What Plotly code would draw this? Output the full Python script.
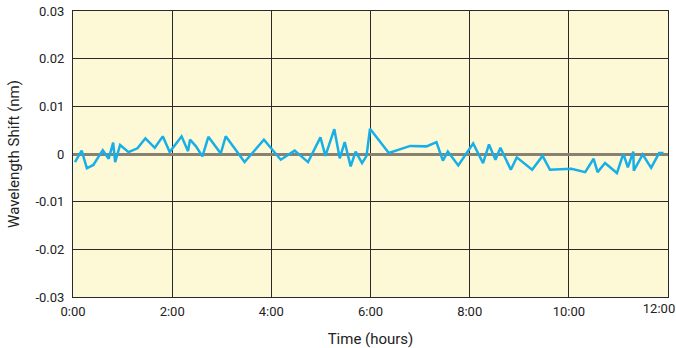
import plotly.graph_objects as go

time_hours = [0.04, 0.175, 0.28, 0.41, 0.6, 0.72, 0.81, 0.85, 0.95, 1.12, 1.30, 1.46, 1.65, 1.81, 1.95,
              2.19, 2.32, 2.36, 2.48, 2.61, 2.73, 2.98, 3.08, 3.46, 3.85, 4.19, 4.47, 4.74, 4.99, 5.09,
              5.27, 5.38, 5.48, 5.60, 5.70, 5.83, 5.92, 5.99, 6.37, 6.80, 7.13, 7.33, 7.46, 7.56, 7.77,
              8.07, 8.27, 8.39, 8.52, 8.62, 8.83, 8.95, 9.26, 9.47, 9.62, 10.05, 10.33, 10.50, 10.58,
              10.73, 10.97, 11.10, 11.19, 11.30, 11.31, 11.49, 11.66, 11.82, 11.91]
shift_nm = [-0.0017, 0.0007, -0.0030, -0.0023, 0.0008, -0.0010, 0.0024, -0.0017, 0.0019, 0.0004,
            0.0012, 0.0033, 0.0013, 0.0037, 0.0004, 0.0037, 0.0006, 0.0030, 0.0016, -0.0005, 0.0036,
            0.0001, 0.0037, -0.0017, 0.0030, -0.0012, 0.0007, -0.0017, 0.0035, -0.0004, 0.0052,
            -0.0009, 0.0025, -0.0026, 0.0005, -0.0019, -0.0004, 0.0053, 0.0002, 0.0017, 0.0016,
            0.0025, -0.0014, 0.0005, -0.0024, 0.0022, -0.0019, 0.0020, -0.0012, 0.0013, -0.0033,
            -0.0007, -0.0033, -0.0004, -0.0033, -0.0031, -0.0038, -0.0010, -0.0038, -0.0019,
            -0.0040, 0.0001, -0.0028, 0.0005, -0.0035, -0.0001, -0.0029, 0.0002, 0.0002]

x_tick_vals = [0, 2, 4, 6, 8, 10, 12]
x_tick_text = ["0:00", "2:00", "4:00", "6:00", "8:00", "10:00", "12:00"]
y_tick_vals = [0.03, 0.02, 0.01, 0, -0.01, -0.02, -0.03]
y_tick_text = ["0.03", "0.02", "0.01", "0", "-0.01", "-0.02", "-0.03"]

font_family = "Roboto, Liberation Sans, Arial, sans-serif"

fig = go.Figure()
fig.add_trace(go.Scatter(
    x=time_hours, y=shift_nm, mode="lines",
    line=dict(color="#18afe8", width=2.5),
    hoverinfo="skip"))
# invisible companion trace so the secondary axis carrying the last tick label is drawn
fig.add_trace(go.Scatter(
    x=time_hours[:1], y=shift_nm[:1], xaxis="x2", mode="lines",
    line=dict(width=0), opacity=0, hoverinfo="skip"))

common_x = dict(range=[0, 12], automargin=False, ticklabeloverflow="allow",
                ticks="", ticklen=0, zeroline=False, tickfont=dict(size=13),
                ticklabelstandoff=2)

fig.update_layout(
    width=676, height=348,
    margin=dict(l=73, r=8, t=11, b=51),
    paper_bgcolor="white", plot_bgcolor="#fdf8d5",
    showlegend=False,
    font=dict(family=font_family, size=13, color="#222"),
    xaxis=dict(tickvals=x_tick_vals[:-1], ticktext=x_tick_text[:-1],
               showgrid=True, gridcolor="#2a2a2a", gridwidth=1,
               showline=True, linecolor="#2a2a2a", linewidth=1, mirror=True,
               title=dict(text="Time (hours)", font=dict(size=15), standoff=17),
               **common_x),
    xaxis2=dict(overlaying="x", side="bottom", anchor="y",
                tickvals=x_tick_vals[-1:], ticktext=x_tick_text[-1:],
                ticklabelshift=-9, showgrid=False, showline=False,
                **common_x),
    yaxis=dict(range=[-0.03, 0.03], tickvals=y_tick_vals, ticktext=y_tick_text,
               automargin=False, ticklabeloverflow="allow", ticklabelstandoff=5,
               showgrid=True, gridcolor="#2a2a2a", gridwidth=1,
               showline=True, linecolor="#2a2a2a", linewidth=1, mirror=True,
               zeroline=True, zerolinecolor="#8a8270", zerolinewidth=2.5,
               ticks="", ticklen=0,
               title=dict(text="Wavelength Shift (nm)", font=dict(size=15), standoff=12),
               tickfont=dict(size=13)),
)

fig.write_html("out.html", config={"displayModeBar": False},
               post_script="document.body.style.margin='0';")
